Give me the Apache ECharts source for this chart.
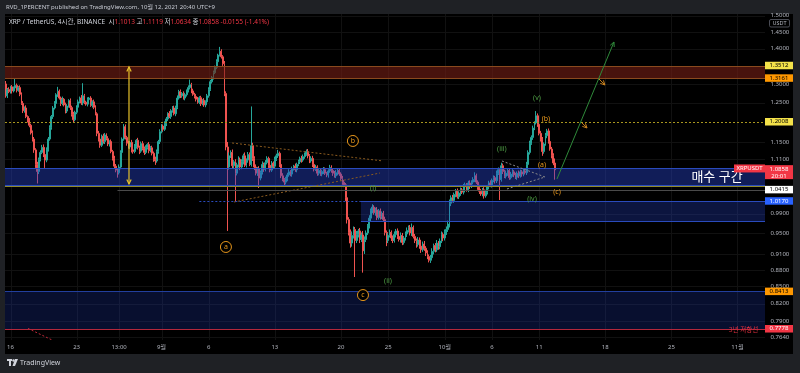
<!DOCTYPE html>
<html><head><meta charset="utf-8">
<script src="https://cdn.jsdelivr.net/npm/echarts@6/dist/echarts.min.js"></script>
<style>html,body{margin:0;padding:0;background:#1f2125;}#c{width:800px;height:373px;}</style>
</head><body><div id="c"></div>
<script>
// ---------- DATA ----------
const firstOpen = 1.300;
const closes = [
1.268,1.285,1.279,1.292,1.281,1.289,1.296,1.283,1.290,1.272,
1.248,1.229,1.236,1.214,1.205,1.192,1.173,1.158,1.132,1.098,
1.082,1.110,1.126,1.138,1.121,1.108,1.134,1.158,1.186,1.214,
1.236,1.248,1.271,1.280,1.262,1.248,1.259,1.244,1.228,1.241,
1.255,1.237,1.219,1.206,1.225,1.238,1.252,1.262,1.249,1.268,
1.251,1.246,1.258,1.262,1.243,1.252,1.238,1.221,1.172,1.158,
1.143,1.165,1.152,1.168,1.159,1.146,1.152,1.128,1.112,1.094,
1.085,1.079,1.092,1.126,1.158,1.188,1.162,1.148,1.139,1.150,
1.132,1.128,1.141,1.155,1.138,1.129,1.147,1.136,1.126,1.138,
1.145,1.130,1.137,1.124,1.110,1.106,1.128,1.152,1.176,1.190,
1.182,1.196,1.208,1.222,1.214,1.229,1.236,1.221,1.238,1.262,
1.279,1.268,1.274,1.262,1.271,1.281,1.290,1.298,1.281,1.272,
1.266,1.259,1.251,1.263,1.247,1.256,1.244,1.252,1.268,1.285,
1.306,1.318,1.331,1.346,1.362,1.381,1.392,1.376,1.356,1.274,
1.139,1.092,1.118,1.126,1.095,1.104,1.078,1.097,1.110,1.092,
1.104,1.118,1.096,1.108,1.121,1.098,1.142,1.112,1.092,1.078,
1.088,1.067,1.079,1.098,1.087,1.102,1.112,1.096,1.085,1.101,
1.094,1.110,1.118,1.124,1.098,1.072,1.064,1.058,1.066,1.074,
1.081,1.076,1.088,1.094,1.086,1.098,1.104,1.112,1.108,1.116,
1.122,1.128,1.118,1.106,1.112,1.098,1.087,1.092,1.078,1.084,
1.076,1.082,1.086,1.078,1.074,1.083,1.091,1.084,1.078,1.072,
1.079,1.084,1.076,1.066,1.058,1.052,1.024,0.978,0.952,0.931,
0.946,0.958,0.936,0.948,0.955,0.938,0.947,0.916,0.938,0.951,
0.965,0.981,0.996,1.004,0.992,0.998,0.982,0.996,0.984,0.991,
0.978,0.952,0.936,0.946,0.952,0.941,0.936,0.948,0.955,0.944,
0.938,0.946,0.932,0.941,0.949,0.956,0.962,0.951,0.962,0.944,
0.936,0.928,0.937,0.925,0.918,0.929,0.921,0.912,0.905,0.898,
0.903,0.915,0.926,0.918,0.931,0.924,0.935,0.948,0.941,0.953,
0.958,0.969,1.012,1.024,1.018,1.031,1.038,1.026,1.034,1.041,
1.036,1.048,1.052,1.041,1.056,1.049,1.058,1.064,1.072,1.058,
1.046,1.038,1.032,1.041,1.028,1.036,1.048,1.056,1.051,1.062,
1.068,1.061,1.078,1.086,1.064,1.095,1.082,1.071,1.078,1.084,
1.068,1.076,1.081,1.074,1.069,1.078,1.072,1.081,1.076,1.083,
1.079,1.098,1.126,1.148,1.162,1.185,1.198,1.216,1.194,1.172,
1.158,1.128,1.146,1.166,1.178,1.152,1.134,1.118,1.1013,1.0858
];
// upper / lower wick lengths in thousandths of a dollar
const upWick = [
8,4,6,3,5,4,19,5,4,6, 5,6,4,7,3,5,4,6,5,4, 6,4,5,6,7,3,4,5,6,4, 5,6,4,12,5,4,7,3,6,5,
4,6,5,7,4,5,6,4,8,34, 5,4,6,3,5,4,6,5,4,6, 7,4,6,5,4,6,3,5,4,6, 5,4,6,5,4,7,6,4,5,3,
6,4,5,3,6,4,5,6,4,5, 3,6,4,5,4,6,5,4,6,5, 4,6,5,3,6,4,5,6,4,7, 5,6,4,6,5,4,6,14,5,6,
4,5,6,4,5,3,6,4,5,6, 5,4,6,5,7,4,13,6,5,8, 6,12,8,5,7,4,6,5,7,4, 6,5,8,4,6,5,98,7,5,6,
4,6,5,7,4,6,5,4,6,5, 4,6,5,8,4,5,6,3,4,5, 6,4,5,3,6,4,5,4,6,5, 4,5,6,4,5,6,3,5,4,6,
5,4,6,5,3,4,6,5,4,5, 6,4,5,4,6,5,4,7,5,6, 8,6,5,7,4,6,5,8,6,5, 4,6,5,6,4,5,6,4,5,4,
5,6,4,5,6,4,5,6,4,5, 4,6,5,4,5,6,4,5,8,4, 5,4,6,5,4,5,6,4,5,4, 5,6,4,5,6,4,5,6,4,5,
6,7,8,5,6,4,5,6,4,5, 4,6,5,4,5,6,4,5,8,5, 4,6,5,4,6,5,4,5,6,4, 5,4,6,5,4,7,5,4,6,5,
4,5,6,4,5,4,6,5,4,5, 4,6,5,6,5,6,4,12,6,5, 6,5,4,7,5,6,4,5,6,10.6
];
const dnWick = [
5,6,4,5,7,4,5,6,4,5, 4,6,5,4,6,5,4,6,7,8, 27,6,5,4,6,18,5,6,4,5, 6,4,5,6,4,7,5,4,6,5,
4,6,5,7,4,5,6,4,5,6, 5,4,6,5,4,6,5,4,7,6, 6,4,5,6,4,5,6,4,5,6, 5,11,4,5,6,4,5,6,4,5,
6,5,4,6,5,7,4,5,6,4, 5,6,4,5,6,9,4,5,6,4, 5,4,6,5,4,6,5,4,6,5, 4,6,5,4,6,5,4,5,6,4,
5,6,4,5,6,4,5,6,4,5, 4,5,6,4,5,6,4,5,6,7, 8,137,6,5,7,6,63,5,6,7, 5,6,4,5,6,4,5,6,7,5,
6,22,5,4,6,5,4,6,5,4, 6,5,4,5,6,5,4,9,5,6, 4,5,6,4,5,6,4,5,6,4, 5,4,6,5,4,6,5,4,6,5,
4,5,6,4,5,6,4,5,6,4, 5,6,4,5,6,5,7,8,6,9, 7,6,69,5,6,7,5,41,6,5, 4,5,6,5,4,6,5,4,6,5,
5,6,11,5,4,6,5,4,6,5, 4,6,5,4,5,6,4,5,6,4, 5,6,4,5,6,4,5,6,5,4, 5,4,6,5,4,6,5,4,6,5,
6,5,7,6,4,5,6,4,5,6, 4,5,6,4,5,6,4,5,6,4, 5,6,4,5,6,4,5,6,4,5, 4,6,5,4,45,5,6,4,5,6,
5,4,6,5,4,6,5,4,6,5, 4,5,6,5,4,6,5,4,6,5, 6,10,5,4,6,5,4,6,5,22.4
];
const slotCount = 483;               // 4h slots on the time axis (incl. empty future space)
const startUTC = Date.UTC(2021,7,15,4); // first 4h candle: Aug 15 13:00 KST
const xTickLabels = [[3,'16'],[45,'23'],[72,'13:00'],[99,'9월'],[129,'6'],[171,'13'],[213,'20'],[243,'25'],[279,'10월'],[309,'6'],[339,'11'],[381,'18'],[423,'25'],[465,'11월']];
const yTickValues = [1.5,1.45,1.4,1.3,1.25,1.15,1.11,0.99,0.95,0.91,0.88,0.85,0.82,0.79,0.764];
const priceTags = [ // value, bg, fg, sub text
  [1.3512,'#f4e24a','#000',''],
  [1.3161,'#ff9800','#000',''],
  [1.2008,'#f4e24a','#000',''],
  [1.0858,'#f23645','#fff','20:01'],
  [1.0415,'#ffffff','#000',''],
  [1.0170,'#2962ff','#fff',''],
  [0.8413,'#ff9800','#000',''],
  [0.7778,'#f23645','#fff','']
];
const zones = [ // x0, low, x1, high, fill, stroke
  [-0.5,1.3161,482.5,1.3512,'rgba(120,32,22,0.6)','#8a4a1e'],
  [-0.5,1.051,482.5,1.089,'rgba(40,70,210,0.42)','#2a4bbd'],
  [225.7,0.9758,482.5,1.017,'rgba(40,70,210,0.30)','#2a4bbd'],
  [-0.5,0.7778,482.5,0.8413,'rgba(30,55,170,0.28)','#223f9e']
];
const trendLines = [ // k1, p1, k2, p2, color, width, dash, arrowStart, arrowEnd
  [78.3,1.347,78.3,1.0539,'#e6c12a',1.2,0,1,1],
  [143.8,1.1485,239.7,1.106,'#8a5a1e',1,1,0,0],
  [145,1.0148,237.8,1.0784,'#8a5a1e',1,1,0,0],
  [315.3,1.106,342.7,1.0694,'#8a8a8a',1,1,0,0],
  [318.5,1.0429,342.7,1.0694,'#8a8a8a',1,1,0,0],
  [350.3,1.065,386.5,1.4195,'#2f8a3a',1,0,0,1],
  [365.6,1.2002,369.4,1.1852,'#c7801e',1,0,0,1],
  [377.0,1.3135,380.8,1.297,'#c7801e',1,0,0,1],
  [14.1,0.7784,29.4,0.7597,'#c0283a',1,1,0,0],
  [123,1.017,225.7,1.017,'#2a4bbd',1,1,0,0],
  [71,1.0415,482.5,1.0415,'#4a4a4a',1,0,0,0],
  [-0.5,1.0495,482.5,1.0495,'#8f8a2e',1,0,0,0],
  [-0.5,1.2008,482.5,1.2008,'#a8961e',1,1,0,0],
  [-0.5,0.7778,482.5,0.7778,'#b4283c',1,0,0,0]
];
const waveLabels = [ // k, price, text, color, circled
  [139.9,0.9234,'a','#e8971b',1],
  [220.6,1.1534,'b','#e8971b',1],
  [227.0,0.8348,'c','#e8971b',1],
  [233.4,1.045,'(i)','#4f9f45',0],
  [242.9,0.8598,'(ii)','#4f9f45',0],
  [315.3,1.1342,'(iii)','#4f9f45',0],
  [334.4,1.0212,'(iv)','#4f9f45',0],
  [337.6,1.2623,'(v)','#4f9f45',0],
  [340.8,1.0967,'(a)','#e8971b',0],
  [343.3,1.2077,'(b)','#e8971b',0],
  [350.3,1.0362,'(c)','#e8971b',0]
];
const textNotes = [ // k, price, text, color, size
  [452,1.0694,'매수 구간','#ffffff',13],
  [468.8,0.775,'3년 저항선','#e0303f',6.5]
];

// ---------- BUILD ----------
const FONT = "'Noto Sans','Noto Sans CJK KR',sans-serif";
const categories = [];
for (let i = 0; i < slotCount; i++) {
  const d = new Date(startUTC + i * 4 * 3600 * 1000 + 9 * 3600 * 1000);
  categories.push((d.getUTCMonth()+1) + '-' + d.getUTCDate() + ' ' + d.getUTCHours() + ':00');
}
const labelMap = {};
xTickLabels.forEach(t => labelMap[t[0]] = t[1]);
const candles = closes.map((c, i) => {
  const o = i === 0 ? firstOpen : closes[i-1];
  return [o, c, Math.min(o,c) - dnWick[i]/1000, Math.max(o,c) + upWick[i]/1000];
});

const chart = echarts.init(document.getElementById('c'), null, {renderer:'canvas'});
function arrowHead(p, q, len) {
  const a = Math.atan2(q[1]-p[1], q[0]-p[0]);
  const s = 0.45;
  return [[q[0]-len*Math.cos(a-s), q[1]-len*Math.sin(a-s)], q, [q[0]-len*Math.cos(a+s), q[1]-len*Math.sin(a+s)]];
}
const option = {
  backgroundColor: '#1f2125',
  animation: false,
  grid: {left: 5, right: 35, top: 14, bottom: 33},
  xAxis: [{
    type: 'category', data: categories, boundaryGap: true,
    axisLine: {show:false}, axisTick: {show:false},
    axisLabel: {interval: i => labelMap[i] !== undefined, formatter: (v, i) => labelMap[i] || '',
      color: '#b2b5be', fontSize: 6, fontFamily: FONT, margin: 4},
    splitLine: {show:false}
  }, {
    type: 'value', min: -0.5, max: 482.5, show: false
  }],
  yAxis: [{
    type: 'log', logBase: 10, min: 0.7597, max: 1.5054, show: true,
    axisLine:{show:false}, axisTick:{show:false}, axisLabel:{show:false}, splitLine:{show:false}
  }],
  graphic: [
    {type:'rect', shape:{x:5, y:14, width:788, height:340}, style:{fill:'#000'}, z:-10},
    {type:'text', x:6, y:7, style:{text:'RVD_1PERCENT published on TradingView.com, 10월 12, 2021 20:40 UTC+9', fill:'#c9ccd4', font:'6px '+FONT, verticalAlign:'middle'}},
    {type:'text', x:9, y:22, z:20, style:{
      text:'{a|XRP / TetherUS, 4시간, BINANCE  }{g|시}{r|1.1013} {g|고}{r|1.1119} {g|저}{r|1.0634} {g|종}{r|1.0858} {r|-0.0155 (-1.41%)}',
      verticalAlign:'middle', font:'6.5px '+FONT,
      rich:{a:{fill:'#d1d4dc', fontSize:6.5, fontFamily:FONT}, g:{fill:'#d1d4dc', fontSize:6.5, fontFamily:FONT}, r:{fill:'#f23645', fontSize:6.5, fontFamily:FONT}}}},
    {type:'rect', shape:{x:769.5, y:19.5, width:20, height:7.5, r:1.5}, style:{fill:'#000', stroke:'#5d606b', lineWidth:0.8}, z:30},
    {type:'text', x:779.5, y:23.3, z:31, style:{text:'USDT', fill:'#b2b5be', font:'5.5px '+FONT, align:'center', verticalAlign:'middle'}},
    {type:'group', x:7, y:359, children:[
      {type:'rect', shape:{x:0, y:0, width:5, height:2}, style:{fill:'#d1d4dc'}},
      {type:'rect', shape:{x:2, y:0, width:2, height:7}, style:{fill:'#d1d4dc'}},
      {type:'circle', shape:{cx:6.5, cy:1.5, r:1.2}, style:{fill:'#d1d4dc'}},
      {type:'polygon', shape:{points:[[8,0],[11,0],[8,7],[5.5,7]]}, style:{fill:'#d1d4dc'}}
    ]},
    {type:'text', x:20, y:362.5, style:{text:'TradingView', fill:'#d1d4dc', font:'7px '+FONT, verticalAlign:'middle'}}
  ],
  series: [
    { // faint grid
      type:'custom', xAxisIndex:1, yAxisIndex:0, silent:true, z:0,
      data: yTickValues.map(v => [0, v]),
      renderItem: (params, api) => {
        const cs = params.coordSys;
        const y = Math.round(api.coord([0, api.value(1)])[1]) + 0.5;
        const children = [{type:'line', shape:{x1:cs.x, y1:y, x2:cs.x+cs.width, y2:y}, style:{stroke:'#111', lineWidth:1}}];
        if (params.dataIndex === 0) {
          xTickLabels.forEach(t => {
            const x = Math.round(api.coord([t[0], 1])[0]) + 0.5;
            children.push({type:'line', shape:{x1:x, y1:cs.y, x2:x, y2:cs.y+cs.height}, style:{stroke:'#111', lineWidth:1}});
          });
        }
        return {type:'group', children};
      }
    },
    {
      type:'candlestick', xAxisIndex:0, yAxisIndex:0, data: candles, barWidth: 1.4, z:2,
      itemStyle:{color:'#26a69a', color0:'#ef5350', borderColor:'#26a69a', borderColor0:'#ef5350', borderWidth:1}
    },
    { // zones
      type:'custom', xAxisIndex:1, yAxisIndex:0, silent:true, z:3, clip:true,
      data: zones.map(z => [z[0], z[1], z[2], z[3]]),
      renderItem: (params, api) => {
        const z = zones[params.dataIndex];
        const p1 = api.coord([api.value(0), api.value(3)]);
        const p2 = api.coord([api.value(2), api.value(1)]);
        const y1 = Math.round(p1[1]) + 0.5, y2 = Math.round(p2[1]) + 0.5;
        return {type:'group', children:[
          {type:'rect', shape:{x:p1[0], y:y1, width:p2[0]-p1[0], height:y2-y1}, style:{fill:z[4]}},
          {type:'line', shape:{x1:p1[0], y1:y1, x2:p2[0], y2:y1}, style:{stroke:z[5], lineWidth:1}},
          {type:'line', shape:{x1:p1[0], y1:y2, x2:p2[0], y2:y2}, style:{stroke:z[5], lineWidth:1}}
        ]};
      }
    },
    { // drawn lines
      type:'custom', xAxisIndex:1, yAxisIndex:0, silent:true, z:4, clip:true,
      data: trendLines.map(t => [t[0], t[1], t[2], t[3]]),
      renderItem: (params, api) => {
        const t = trendLines[params.dataIndex];
        const p = api.coord([api.value(0), api.value(1)]);
        const q = api.coord([api.value(2), api.value(3)]);
        const horiz = Math.abs(p[1]-q[1]) < 0.01;
        if (horiz) { p[1] = q[1] = Math.round(p[1]) + 0.5; }
        const st = {stroke:t[4], lineWidth:t[5], lineDash: t[6] ? [2,2] : null, fill:null};
        const ch = [{type:'line', shape:{x1:p[0], y1:p[1], x2:q[0], y2:q[1]}, style:st}];
        if (t[8]) ch.push({type:'polyline', shape:{points:arrowHead(p, q, 5)}, style:{stroke:t[4], lineWidth:t[5], fill:null}});
        if (t[7]) ch.push({type:'polyline', shape:{points:arrowHead(q, p, 5)}, style:{stroke:t[4], lineWidth:t[5], fill:null}});
        return {type:'group', children:ch};
      }
    },
    { // wave labels and notes
      type:'custom', xAxisIndex:1, yAxisIndex:0, silent:true, z:5,
      data: waveLabels.map(w => [w[0], w[1]]).concat(textNotes.map(n => [n[0], n[1]])),
      renderItem: (params, api) => {
        const i = params.dataIndex;
        const c = api.coord([api.value(0), api.value(1)]);
        if (i < waveLabels.length) {
          const w = waveLabels[i];
          const ch = [{type:'text', x:c[0], y:c[1], style:{text:w[2], fill:w[3], font:'7px '+FONT, align:'center', verticalAlign:'middle'}}];
          if (w[4]) ch.unshift({type:'circle', shape:{cx:c[0], cy:c[1], r:5.5}, style:{fill:'#000', stroke:w[3], lineWidth:1}});
          return {type:'group', children:ch};
        }
        const n = textNotes[i - waveLabels.length];
        return {type:'text', x:c[0], y:c[1], style:{text:n[2], fill:n[3], font:n[4]+'px '+FONT, align:'center', verticalAlign:'middle'}};
      }
    },
    { // right axis tick labels
      type:'custom', xAxisIndex:1, yAxisIndex:0, silent:true, z:8,
      data: yTickValues.map(v => [0, v]),
      renderItem: (params, api) => {
        const cs = params.coordSys;
        const y = api.coord([0, api.value(1)])[1];
        return {type:'text', x: cs.x + cs.width + 5.5, y: y, style:{text: api.value(1).toFixed(4), fill:'#b2b5be', font:'6px '+FONT, verticalAlign:'middle'}};
      }
    },
    { // price tags
      type:'custom', xAxisIndex:1, yAxisIndex:0, silent:true, z:9,
      data: priceTags.map(t => [0, t[0]]),
      renderItem: (params, api) => {
        const t = priceTags[params.dataIndex];
        const cs = params.coordSys;
        const x0 = cs.x + cs.width;
        const y = api.coord([0, api.value(1)])[1];
        const ch = [];
        if (t[3]) {
          ch.push({type:'rect', shape:{x:x0, y:y-4.6, width:28, height:14}, style:{fill:t[1]}});
          ch.push({type:'text', x:x0+14, y:y+6.6, style:{text:t[3], fill:t[2], font:'6px '+FONT, align:'center', verticalAlign:'middle'}});
          ch.push({type:'rect', shape:{x:x0-31, y:y-5.3, width:31, height:8}, style:{fill:t[1]}});
          ch.push({type:'text', x:x0-15.5, y:y-1.3, style:{text:'XRPUSDT', fill:t[2], font:'6px '+FONT, align:'center', verticalAlign:'middle'}});
        } else {
          ch.push({type:'rect', shape:{x:x0, y:y-3.75, width:28, height:7.5}, style:{fill:t[1]}});
        }
        ch.push({type:'text', x:x0+14, y:y, style:{text:api.value(1).toFixed(4), fill:t[2], font:'6px '+FONT, align:'center', verticalAlign:'middle'}});
        return {type:'group', children:ch};
      }
    }
  ]
};
chart.setOption(option);
</script>
</body></html>
